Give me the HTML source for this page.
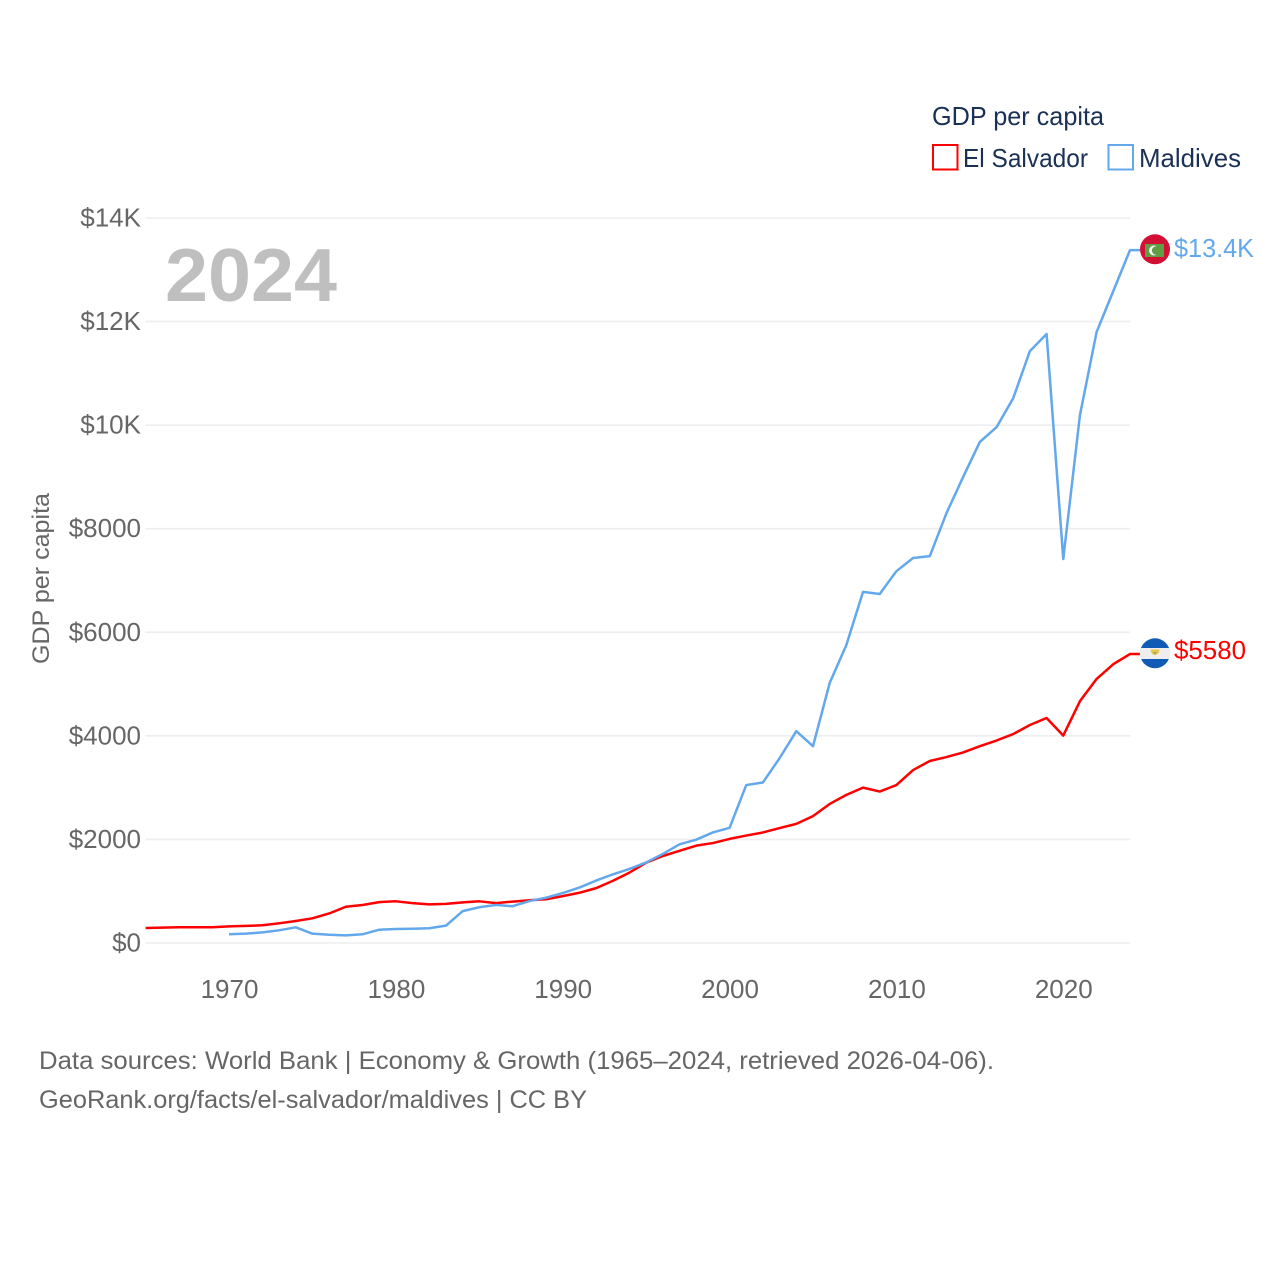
<!DOCTYPE html>
<html lang="en">
<head>
<meta charset="utf-8">
<title>GDP per capita: El Salvador vs Maldives</title>
<style>
  html, body { margin: 0; padding: 0; background: #fff; }
  svg { display: block; }
  text { font-family: "Liberation Sans", sans-serif; }
</style>
</head>
<body>
<svg id="chart" width="1280" height="1280" viewBox="0 0 1280 1280" xmlns="http://www.w3.org/2000/svg">
  <rect x="0" y="0" width="1280" height="1280" fill="#ffffff"/>
  <g id="grid"></g>
  <g id="yticks"></g>
  <g id="xticks"></g>
  <text x="165" y="301" font-size="75" font-weight="bold" fill="#bfbfbf" textLength="172" lengthAdjust="spacingAndGlyphs">2024</text>
  <text transform="translate(49 664) rotate(-90)" font-size="24.5" fill="#666666" textLength="171" lengthAdjust="spacingAndGlyphs">GDP per capita</text>
  <g id="series"></g>

  <g>
    <circle cx="1155" cy="249.3" r="15" fill="#d21034"/>
    <rect x="1145" y="244" width="19" height="13" fill="#5f9e45"/>
    <circle cx="1154" cy="250.5" r="5" fill="#f2f2f2"/>
    <circle cx="1156.2" cy="250.5" r="4.3" fill="#5f9e45"/>
  </g>
  <g>
    <circle cx="1155" cy="653.3" r="15" fill="#0f5bb5"/>
    <path d="M1140.9 648 H1169.1 A15 15 0 0 1 1169.1 659 H1140.9 A15 15 0 0 1 1140.9 648 Z" fill="#eeeeee"/>
    <path d="M1150.5 649.5 H1159.5 A4.5 5.5 0 0 1 1150.5 649.5 Z" fill="#e9c649"/>
    <path d="M1153 652 H1157 L1155 654.5 Z" fill="#8fae5a"/>
  </g>
  <text id="label-maldives" x="1174" y="257" font-size="26" fill="#63a8ec" textLength="80" lengthAdjust="spacingAndGlyphs">$13.4K</text>
  <text id="label-salvador" x="1174" y="659" font-size="26" fill="#ff0000" textLength="72" lengthAdjust="spacingAndGlyphs">$5580</text>

  <g>
    <text x="932" y="125" font-size="26" fill="#1a3055" textLength="172" lengthAdjust="spacingAndGlyphs">GDP per capita</text>
    <g>
      <rect x="933" y="145" width="24.5" height="24.5" fill="#ffffff" stroke="#ff0000" stroke-width="2"/>
      <text x="963" y="167" font-size="26" fill="#1a3055" textLength="125" lengthAdjust="spacingAndGlyphs">El Salvador</text>
    </g>
    <g>
      <rect x="1108.5" y="145" width="24.5" height="24.5" fill="#ffffff" stroke="#63a8ec" stroke-width="2"/>
      <text x="1139" y="167" font-size="26" fill="#1a3055" textLength="102" lengthAdjust="spacingAndGlyphs">Maldives</text>
    </g>
  </g>

  <text x="39" y="1069" font-size="25" fill="#666666" textLength="955" lengthAdjust="spacingAndGlyphs">Data sources: World Bank | Economy &amp; Growth (1965–2024, retrieved 2026-04-06).</text>
  <text x="39" y="1108" font-size="25" fill="#666666" textLength="548" lengthAdjust="spacingAndGlyphs">GeoRank.org/facts/el-salvador/maldives | CC BY</text>
</svg>
<script>
const firstYear = 1965;
const lastYear = 2024;
const maldivesFirstYear = 1970;
const yTickValues = [0, 2000, 4000, 6000, 8000, 10000, 12000, 14000];
const yTickLabels = ["$0", "$2000", "$4000", "$6000", "$8000", "$10K", "$12K", "$14K"];
const xTickValues = [1970, 1980, 1990, 2000, 2010, 2020];
const xTickLabels = ["1970", "1980", "1990", "2000", "2010", "2020"];
const elSalvadorValues = [
  290, 297, 305, 305, 305, 322, 330, 342, 380, 425,
  477, 570, 700, 733, 790, 805, 770, 747, 755, 785,
  805, 770, 800, 825, 845, 905, 970, 1060, 1200, 1360,
  1550, 1680, 1780, 1880, 1930, 2010, 2075, 2135, 2220, 2300,
  2450, 2685, 2860, 3000, 2925, 3050, 3340, 3515, 3590, 3680,
  3800, 3910, 4035, 4210, 4345, 4005, 4670, 5100, 5385, 5580
];
const maldivesValues = [
  168, 180, 205, 245, 303, 180, 160, 148, 168, 257,
  270, 276, 284, 335, 615, 690, 735, 710, 810, 875,
  965, 1070, 1205, 1325, 1430, 1555, 1720, 1905, 1995, 2135,
  2225, 3050, 3100, 3570, 4090, 3800, 5020, 5755, 6780, 6740,
  7180, 7435, 7470, 8300, 9000, 9675, 9960, 10520, 11430, 11760,
  7415, 10195, 11800, 12590, 13380
];

const NS = "http://www.w3.org/2000/svg";
const plotLeft = 145.6, plotRight = 1130, plotTop = 218, plotBottom = 943;
function xScale(year) {
  return plotLeft + (year - firstYear) * (plotRight - plotLeft) / (lastYear - firstYear);
}
function yScale(value) {
  return plotBottom - value * (plotBottom - plotTop) / 14000;
}

const gridGroup = document.getElementById("grid");
const yTickGroup = document.getElementById("yticks");
yTickValues.forEach(function (v, i) {
  const line = document.createElementNS(NS, "line");
  
  
  line.setAttribute("x1", plotLeft);
  line.setAttribute("x2", plotRight);
  line.setAttribute("y1", yScale(v));
  line.setAttribute("y2", yScale(v));
  line.setAttribute("stroke", "#eeeeee");
  line.setAttribute("stroke-width", "1.6");
  gridGroup.appendChild(line);

  const t = document.createElementNS(NS, "text");
  
  
  t.setAttribute("x", 141);
  t.setAttribute("y", yScale(v) + 8.5);
  t.setAttribute("text-anchor", "end");
  t.setAttribute("font-size", "26");
  t.setAttribute("fill", "#666666");
  t.textContent = yTickLabels[i];
  yTickGroup.appendChild(t);
});

const xTickGroup = document.getElementById("xticks");
xTickValues.forEach(function (v, i) {
  const t = document.createElementNS(NS, "text");
  
  
  t.setAttribute("x", xScale(v) + 0.5);
  t.setAttribute("y", 998);
  t.setAttribute("text-anchor", "middle");
  t.setAttribute("font-size", "26");
  t.setAttribute("fill", "#666666");
  t.textContent = xTickLabels[i];
  xTickGroup.appendChild(t);
});

function pointsFor(values, startYear) {
  const pts = values.map(function (v, i) {
    return xScale(startYear + i).toFixed(2) + "," + yScale(v).toFixed(2);
  });
  const last = values[values.length - 1];
  pts.push("1140," + yScale(last).toFixed(2));
  return pts.join(" ");
}

const seriesGroup = document.getElementById("series");

const salvadorLine = document.createElementNS(NS, "polyline");


salvadorLine.setAttribute("points", pointsFor(elSalvadorValues, firstYear));
salvadorLine.setAttribute("fill", "none");
salvadorLine.setAttribute("stroke", "#ff0000");
salvadorLine.setAttribute("stroke-width", "2.5");
salvadorLine.setAttribute("stroke-linejoin", "round");
seriesGroup.appendChild(salvadorLine);

const maldivesLine = document.createElementNS(NS, "polyline");


maldivesLine.setAttribute("points", pointsFor(maldivesValues, maldivesFirstYear));
maldivesLine.setAttribute("fill", "none");
maldivesLine.setAttribute("stroke", "#63a8ec");
maldivesLine.setAttribute("stroke-width", "2.5");
maldivesLine.setAttribute("stroke-linejoin", "round");
seriesGroup.appendChild(maldivesLine);
</script>
</body>
</html>
